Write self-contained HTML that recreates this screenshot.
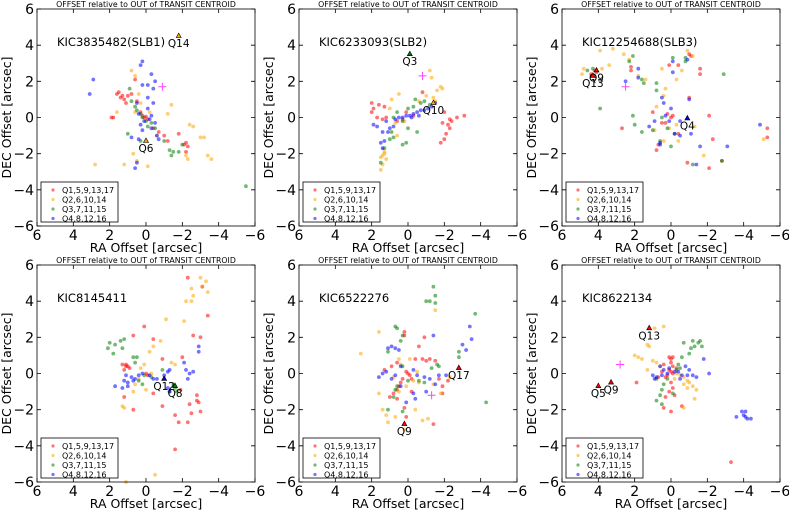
<!DOCTYPE html>
<html><head><meta charset="utf-8">
<style>
html,body{margin:0;padding:0;background:#fff;}
svg{display:block;font-family:"DejaVu Sans","Liberation Sans",sans-serif;}
</style></head>
<body>
<svg id="fig" width="789" height="512" viewBox="0 0 789 512" xmlns="http://www.w3.org/2000/svg"></svg>
<script>
const panelNames = ["KIC3835482(SLB1)","KIC6233093(SLB2)","KIC12254688(SLB3)","KIC8145411","KIC6522276","KIC8622134"];
const tickValues = [6,4,2,0,-2,-4,-6];
const tickLabels = ["6","4","2","0","\u22122","\u22124","\u22126"];
const legendLabels = ["Q1,5,9,13,17","Q2,6,10,14","Q3,7,11,15","Q4,8,12,16"];
const seriesColors = ["#ff0000","#ffa500","#008000","#0000ff"];

const p1Red=[[1.6,1.3],[1.5,1.4],[1.3,1.2],[1.2,1.0],[1.1,0.8],[1.4,1.1],[1.0,1.2],[0.6,2.1],[0.3,0.3],[0.2,0.1],[0.1,0.0],[-0.1,-0.1],[0,0.05],[1.8,0],[1.9,0],[-2.1,-1.5],[-2.2,-1.4],[-2.3,-1.6],[-2.2,-1.9],[-1.8,-0.9],[-1.0,-1.0],[-1.2,-1.3],[-0.7,-0.8],[-0.4,-0.6],[0.5,0.9],[0.8,1.3]];
const p1Orange=[[0.8,2.6],[0.6,2.3],[0.4,1.3],[0.6,0.3],[1.6,0.3],[0.3,0.8],[-1.4,0.7],[-1.2,0.2],[-2.4,-0.4],[-2.6,-0.5],[-3.0,-1.1],[-3.2,-1.1],[-3.4,-2.1],[-3.6,-2.3],[-2.3,-2.3],[-2.2,-2.1],[2.8,-2.6],[1.2,-2.6],[0.7,-2.0],[0.5,-2.4],[-0.1,-2.7],[-0.6,-1.0],[-0.2,0.3]];
const p1Green=[[0.6,0.6],[0.5,0.4],[0.3,0.2],[0.2,0.0],[0,-0.2],[-0.3,-0.3],[-0.5,-0.6],[-1.0,-1.3],[-1.3,-1.8],[-1.5,-1.9],[-1.8,-1.9],[-1.4,-2.1],[-2.0,-1.5],[0.9,1.6],[0.8,0.9],[1.0,-0.9],[-5.5,-3.8],[0.3,-1.3],[-0.1,-0.5]];
const p1Blue=[[0.2,3.1],[0.3,2.9],[-0.3,2.4],[-0.5,2.0],[-0.1,1.8],[0.2,1.8],[-0.4,1.6],[2.9,2.1],[3.1,1.3],[-0.1,1.1],[0.5,0.8],[-0.4,0.8],[-0.1,0.5],[-0.3,0.1],[0.1,-0.2],[-0.5,-0.3],[-0.3,-0.6],[0.2,-0.7],[0.8,-1.1],[0.4,-1.2],[-0.6,-1.0],[0.5,-2.5],[0.6,-2.8],[-0.7,-1.2],[0.3,-0.4],[-0.2,-0.1],[0.4,0.2]];

const p2Red=[[2.0,0.8],[1.9,0.5],[1.6,0.7],[1.3,0.6],[2.0,0.3],[1.7,0],[1.2,0],[1.4,-0.1],[-2.3,-0.1],[-2.4,-0.2],[-2.2,-0.4],[-2.3,-0.6],[-2.1,-0.9],[-2.0,-1.2],[-1.8,-1.4],[-2.7,0],[-3.1,0.1],[-2.0,0.3],[-1.9,-0.3],[-0.8,1.4],[0.1,0.3],[0.3,-0.1],[0.6,-0.2],[-0.3,0.1]];
const p2Orange=[[-1.2,2.6],[-1.3,2.2],[-1.8,1.7],[-1.6,1.5],[-1.4,1.1],[-1.9,1.6],[-1.0,1.2],[-0.6,0.9],[0.5,1.3],[0.9,1.0],[0.2,-0.2],[0.7,-0.3],[1.4,-2.1],[1.3,-2.0],[1.5,-2.2],[1.2,-2.3],[1.4,-2.6],[1.5,-2.9],[1.3,-1.9],[0.6,-1.0],[1.0,0.5],[-1.5,0.9]];
const p2Green=[[-0.4,1.0],[-0.7,0.8],[-0.9,0.9],[-0.3,0.6],[0,0.5],[0.6,0.3],[0.3,-0.2],[0.0,-0.6],[-0.5,-0.8],[0.9,-0.8],[0.8,-1.1],[0.3,-1.5],[0.1,-1.4],[1.5,-2.5],[1.3,-1.7],[1.0,-1.2],[-1.2,0.7],[0.8,0.0]];
const p2Blue=[[-1.5,0.8],[-1.3,0.6],[-1.1,0.5],[-0.9,0.4],[-0.7,0.4],[-0.5,0.3],[-0.3,0.2],[-0.1,0.1],[0.1,0.1],[0.3,0],[0.5,0],[0.7,-0.1],[1.2,-0.2],[1.9,-0.4],[1.7,-0.5],[1.4,-0.8],[1.1,-0.8],[1.0,-0.6],[1.5,-1.4],[1.4,-1.7],[1.3,-1.3],[0.8,-0.5],[-0.6,0.1],[-0.2,0.0]];

const p3Red=[[4.2,2.6],[4.1,2.5],[4.4,2.4],[2.2,2.6],[2.2,2.8],[0.1,2.9],[-0.4,2.9],[-1.0,3.5],[-1.1,3.4],[-1.6,2.7],[-1.6,2.4],[-1.0,1.1],[0.2,0.2],[0,0],[-0.1,0.1],[0.3,-0.3],[0.7,-1.5],[0.8,-1.8],[-0.9,-2.5],[-2.1,-2.8],[-2.8,-2.4],[-2.3,-1.2],[-2.1,0.1],[-5.3,-0.6],[-5.3,-1.1],[1.0,0.3],[0.5,-0.3],[-0.4,-0.9],[2.7,-0.6]];
const p3Orange=[[3.9,3.7],[3.2,3.8],[4.8,2.7],[4.9,2.4],[3.8,2.7],[3.4,2.9],[2.6,3.5],[2.3,3.2],[1.8,2.3],[1.4,2.1],[0.5,2.7],[-0.3,2.1],[-0.6,2.6],[-0.9,3.7],[-1.2,3.4],[0.4,1.2],[0.8,0.6],[0.1,-0.6],[-0.4,-1.3],[0.4,-1.3],[-1.3,-0.5],[-1.8,-2.1],[-5.1,-1.2],[0.3,1.6],[-0.3,-0.4],[0.9,-0.7]];
const p3Green=[[4.6,2.6],[4.3,2.7],[2.1,3.4],[2.3,3.1],[1.6,2.1],[1.5,1.9],[0.8,1.9],[0.8,1.5],[-0.1,3.3],[-0.8,3.1],[-0.8,3.3],[-2.8,-2.4],[-2.9,2.4],[-1.2,-2.6],[3.9,0.5],[2.0,-0.4],[2.1,0.1],[0.6,-1.3],[0.2,-0.6],[-0.2,-0.9],[0.5,0.0],[0.0,-1.6],[1.0,-0.7],[1.6,-0.8]];
const p3Blue=[[2.5,2.0],[1.8,2.7],[1.8,2.2],[-0.1,3.1],[-0.1,2.5],[-0.9,3.2],[0.5,1.1],[0.4,0.8],[-1.0,1.0],[0.3,0.1],[0.1,-0.2],[-0.2,-0.9],[0.6,-1.4],[0.6,-1.5],[1.2,-0.5],[-0.5,-0.2],[-0.5,-1.0],[-1.1,-0.9],[-1.6,-1.6],[-3.1,-1.6],[-4.9,-0.4],[-1.4,-2.6],[0.0,0.5],[0.9,-0.2]];

const p4Red=[[-2.3,5.3],[-3.1,4.8],[-3.4,3.2],[-2.6,2.1],[-3.0,2.0],[-2.0,0.9],[0.1,2.6],[0.7,2.1],[-0.4,1.9],[1.1,0.5],[1.0,0.4],[0.9,0.3],[1.2,0.2],[1.1,0.4],[1.3,0.5],[0.0,0.0],[-0.1,-0.1],[-0.9,0.8],[-1.9,-0.9],[-2.8,-1.2],[-2.8,-1.5],[-2.9,-1.6],[-3.0,-2.1],[-2.4,-1.7],[-1.6,-2.3],[-1.8,-2.7],[-2.3,-2.7],[-2.5,-2.2],[-1.6,-4.2],[-0.9,-1.8],[1.2,-1.3],[0.7,-2.0],[-0.4,-1.1]];
const p4Orange=[[-3.0,5.3],[-3.3,5.1],[-3.1,4.8],[-3.4,4.5],[-2.5,4.7],[-2.6,4.3],[-2.2,4.0],[-2.5,4.0],[-1.1,3.0],[-2.1,2.9],[-0.4,1.5],[-0.8,1.8],[-0.2,1.2],[0.1,0.5],[0.3,0.3],[-0.3,0.0],[0.4,-0.3],[0.6,-0.6],[1.3,-1.8],[1.2,-1.9],[0.7,-1.0],[0.0,-0.9],[-0.5,-5.6],[1.1,-6.0],[-1.4,0.6],[-1.6,0.5]];
const p4Green=[[2.1,1.4],[2.0,1.7],[1.7,1.6],[1.4,1.8],[1.3,1.4],[1.8,1.1],[1.2,1.9],[0.7,0.9],[0.5,0.9],[0.6,0.6],[0.1,-0.1],[-0.3,-0.2],[0.4,-0.4],[-0.9,0.2],[-1.5,-0.6],[-1.6,-0.8],[-1.7,-1.0],[-1.3,-1.0],[0.2,-0.6]];
const p4Blue=[[-2.9,1.5],[-2.9,1.2],[-2.1,0.6],[-2.2,0.2],[-2.4,0.0],[-2.6,0.1],[-2.3,-0.3],[-1.3,0.2],[-1.2,0.1],[-1.0,-0.1],[-0.6,-0.3],[-0.4,-0.3],[-0.2,-0.1],[0.4,-0.1],[0.6,-0.3],[0.7,-0.4],[1.0,-0.5],[1.2,-0.4],[1.0,-0.7],[1.3,-0.8],[1.7,-0.7],[1.1,-0.1],[0.2,0.0],[-1.3,-1.0],[-1.2,-0.8],[0.8,-0.2]];

const p5Red=[[-0.9,2.0],[-0.6,1.5],[0.2,2.3],[0.2,2.1],[-0.8,0.8],[-1.5,0.7],[-1.0,0.7],[-0.4,0.8],[0.6,0.6],[0.9,0.4],[0.0,0.0],[-0.1,-0.1],[0.1,0.1],[0.3,-0.3],[0.4,-0.5],[0.5,-0.7],[0.6,-0.9],[0.8,-1.1],[0.6,-1.4],[-1.7,-0.3],[-1.9,-0.7],[-2.2,-0.4],[-1.9,-1.1],[0.2,-1.9],[0.1,-2.4],[-1.4,-2.8],[1.0,-1.3],[-0.2,-1.0],[-0.2,-0.3],[1.3,0.2],[-1.2,0.8]];
const p5Orange=[[1.6,2.3],[2.6,1.1],[0.5,0.8],[0.4,0.5],[-0.1,0.8],[-0.5,0.1],[-0.3,-0.4],[0.1,-0.7],[0.5,-1.0],[1.6,-1.1],[1.4,-2.0],[1.2,-2.3],[1.1,-2.7],[0.7,-2.4],[0.2,-3.1],[-0.4,-2.0],[-0.8,-2.6],[-1.1,-2.5],[-1.8,-1.1],[-1.4,-0.6],[-1.5,3.5],[0.8,-0.2],[-0.6,-0.5],[-2.3,-0.2]];
const p5Green=[[-1.4,4.8],[-1.5,4.3],[-1.2,4.0],[-1.0,4.0],[-1.5,3.9],[0.7,2.6],[0.6,2.5],[0.3,2.1],[0.4,1.8],[1.1,1.2],[-3.7,3.3],[-2.8,1.2],[-2.8,0.9],[-1.7,0.4],[-1.6,0.5],[-1.3,0.3],[-0.6,-0.4],[-0.9,-0.5],[0.6,-0.7],[0.7,-0.9],[0.8,-1.3],[1.1,-2.0],[0.3,-2.1],[-4.3,-1.6],[0.3,0.4],[0.0,-0.4]];
const p5Blue=[[-3.4,2.6],[-3.5,1.9],[-3.0,1.6],[-3.2,1.3],[-1.4,2.1],[0.7,1.4],[1.1,1.4],[0.9,1.5],[0.5,1.3],[1.2,0.1],[1.4,0.0],[1.6,-0.2],[0.9,-0.3],[0.7,-0.1],[0.4,0.4],[-0.3,0.2],[-0.5,-0.1],[-0.9,-0.2],[-1.2,-0.3],[-1.5,-0.6],[-1.7,-0.1],[-1.0,-1.0],[-0.3,-1.1],[-0.4,-1.4],[0.1,-1.6],[-2.1,-0.1],[0.4,-0.7]];

const p6Red=[[0.1,0.9],[0,0.8],[-0.1,0.9],[0.0,0.6],[-0.1,0.4],[0.1,0.2],[0.0,0.1],[-0.1,0.0],[0.2,-0.1],[0.4,0.5],[0.3,-0.2],[0.0,-0.5],[-0.1,-0.8],[0.1,-1.0],[-0.2,-1.2],[0.3,-1.3],[0.4,-1.9],[0.0,-2.1],[-0.6,-1.8],[1.9,-0.5],[0.7,-0.2],[-3.3,-4.9],[-0.3,0.3],[0.5,0.1]];
const p6Orange=[[0.9,2.5],[0.4,2.6],[1.3,1.6],[1.2,1.5],[2.0,1.0],[1.8,0.9],[1.6,0.8],[1.0,0.7],[0.8,0.6],[0.6,0.4],[-0.3,0.0],[-0.5,-0.1],[-0.7,-0.2],[-0.9,-0.4],[-0.7,-0.6],[-0.9,-0.8],[-1.2,-0.7],[-1.4,-0.9],[-1.3,-1.4],[-0.7,-1.9],[-0.2,-0.3],[1.3,0.2],[-1.0,-0.5]];
const p6Green=[[-0.7,1.7],[-1.2,1.8],[-1.5,1.7],[-1.6,1.8],[-1.3,1.5],[-1.1,1.4],[-1.7,1.5],[-1.0,1.1],[-0.6,0.9],[-0.4,0.5],[-0.5,0.3],[-0.3,0.2],[0.2,-0.3],[0.4,-0.6],[0.5,-0.9],[0.6,-1.2],[0.8,-1.5],[0.5,-1.7],[-0.1,-1.1],[0.8,-0.3]];
const p6Blue=[[0.6,0.4],[0.4,0.2],[0.2,0.0],[0.5,-0.1],[0.8,-0.2],[0.9,-0.3],[1.0,-0.1],[-0.2,0.1],[-0.4,0.1],[-0.6,-0.1],[-0.9,-0.1],[-1.2,-0.1],[-1.4,-0.2],[-1.0,0.2],[-0.8,0.4],[-1.8,0.8],[-2.1,0.0],[-3.6,-2.4],[-3.9,-2.1],[-4.0,-2.3],[-4.1,-2.1],[-4.2,-2.5],[-4.4,-2.5],[-4.1,-2.4],[-0.5,-0.3],[0.1,0.3]];

const panelSeries=[[p1Red,p1Orange,p1Green,p1Blue],[p2Red,p2Orange,p2Green,p2Blue],[p3Red,p3Orange,p3Green,p3Blue],[p4Red,p4Orange,p4Green,p4Blue],[p5Red,p5Orange,p5Green,p5Blue],[p6Red,p6Orange,p6Green,p6Blue]];
const p1Markers=[[-1.8,4.5,"Q14",1],[0,-1.3,"Q6",1]];
const p2Markers=[[-0.1,3.5,"Q3",2],[-1.4,0.8,"Q10",1]];
const p3Markers=[[4.1,2.6,"Q9",0],[4.3,2.3,"Q13",0],[-0.9,-0.05,"Q4",3]];
const p4Markers=[[-1.0,-0.3,"Q12",3],[-1.6,-0.7,"Q8",2]];
const p5Markers=[[-2.8,0.3,"Q17",0],[0.2,-2.8,"Q9",0]];
const p6Markers=[[1.2,2.5,"Q13",0],[4.0,-0.7,"Q5",0],[3.3,-0.5,"Q9",0]];
const panelMarkers=[p1Markers,p2Markers,p3Markers,p4Markers,p5Markers,p6Markers];
const panelCross=[[-0.9,1.7],[-0.8,2.3],[2.5,1.7],null,[-1.3,-1.2],[2.8,0.5]];

const NS="http://www.w3.org/2000/svg";
const svg=document.getElementById("fig");
const colLeft=[37,299,562], rowTop=[9,265], W=218, H=217;
function mk(tag,attrs,parent){const e=document.createElementNS(NS,tag);for(const k in attrs)e.setAttribute(k,attrs[k]);(parent||svg).appendChild(e);return e;}

for(let p=0;p<6;p++){
  const L=colLeft[p%3], T=rowTop[Math.floor(p/3)];
  const xs=v=>L+(6-v)/12*W, ys=v=>T+(6-v)/12*H;
  const g=mk("g",{});
  
  
  const t=mk("text",{x:L+W/2,y:T-2,"font-size":"7.8","text-anchor":"middle",fill:"#000"},g);
  t.textContent="OFFSET relative to OUT of TRANSIT CENTROID";
  
  
  panelSeries[p].forEach((ser,si)=>{
    ser.forEach(pt=>{
      const c=mk("circle",{cx:xs(pt[0]).toFixed(1),cy:ys(pt[1]).toFixed(1),r:1.9,fill:seriesColors[si],"fill-opacity":0.55},g);
      
      
    });
  });
  const cr=panelCross[p];
  if(cr){const cx=xs(cr[0]),cy=ys(cr[1]);
    const pth=mk("path",{d:`M${cx-4},${cy}H${cx+4}M${cx},${cy-4}V${cy+4}`,stroke:"#ff44ff","stroke-width":1},g);
    
    }
  panelMarkers[p].forEach(m=>{
    const mx=xs(m[0]),my=ys(m[1]);
    const tri=mk("path",{d:`M${mx},${my-3}L${mx-2.5},${my+1.5}L${mx+2.5},${my+1.5}Z`,fill:seriesColors[m[3]],stroke:"#000","stroke-width":0.6},g);
    
    
    const lt=mk("text",{x:mx,y:my+11,"font-size":"10.5","text-anchor":"middle",fill:"#000"},g);
    lt.textContent=m[2];
    
    
  });
  const fr=mk("rect",{x:L,y:T,width:W,height:H,fill:"none",stroke:"#000","stroke-width":0.8},g);
  
  
  tickValues.forEach((v,i)=>{
    const x=xs(v), y=ys(v);
    mk("path",{d:`M${x},${T+H}v-4M${x},${T}v4M${L},${y}h4M${L+W},${y}h-4`,stroke:"#000","stroke-width":0.8},g);
    const xt=mk("text",{x:x,y:T+H+14,"font-size":"14","text-anchor":"middle",fill:"#000"},g);
    xt.textContent=tickLabels[i];
    
    
    const yt=mk("text",{x:L-3,y:y+5,"font-size":"14","text-anchor":"end",fill:"#000"},g);
    yt.textContent=tickLabels[i];
    
    
  });
  const xl=mk("text",{x:L+W/2,y:T+H+26,"font-size":"12.5","text-anchor":"middle",fill:"#000"},g);
  xl.textContent="RA Offset [arcsec]";
  
  
  const yl=mk("text",{x:0,y:0,"font-size":"12.5","text-anchor":"middle",fill:"#000",transform:`translate(${L-26},${T+H/2}) rotate(-90)`},g);
  yl.textContent="DEC Offset [arcsec]";
  
  
  const nm=mk("text",{x:L+20,y:T+37,"font-size":"11.5","fill":"#000"},g);
  nm.textContent=panelNames[p];
  
  
  const lg=mk("g",{},g);
  
  
  mk("rect",{x:L+4,y:T+H-44,width:77,height:40,fill:"#fff",stroke:"#000","stroke-width":0.8},lg);
  legendLabels.forEach((lab,i)=>{
    const yy=T+H-36+i*9.5;
    const c=mk("circle",{cx:L+16,cy:yy,r:1.6,fill:seriesColors[i],"fill-opacity":0.55},lg);
    
    
    const tx=mk("text",{x:L+25,y:yy+3,"font-size":"8","fill":"#000"},lg);
    tx.textContent=lab;
    
    
  });
}
</script>
</body></html>
